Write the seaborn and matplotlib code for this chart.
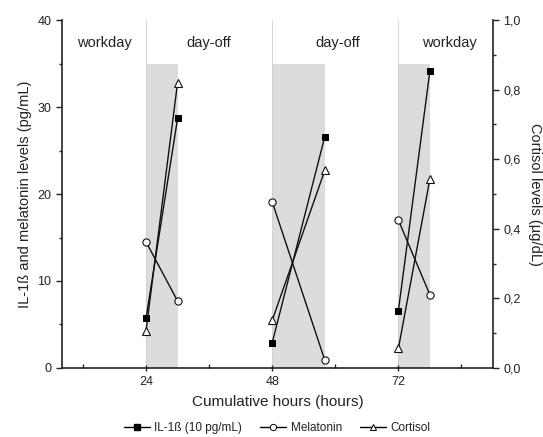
import matplotlib
matplotlib.use("Agg")
import matplotlib.pyplot as plt
import seaborn as sns
import pandas as pd
from matplotlib.lines import Line2D
from matplotlib.ticker import MultipleLocator, FuncFormatter

sns.set_style("ticks")
plt.rcParams['font.family'] = ['Liberation Sans', 'DejaVu Sans']

# data
hours = [24, 30, 48, 58, 72, 78]
segment = [1, 1, 2, 2, 3, 3]
il1b = [5.7, 28.7, 2.9, 26.6, 6.6, 34.2]
melatonin = [14.5, 7.7, 19.1, 0.9, 17.0, 8.4]
cortisol = [0.107, 0.82, 0.137, 0.568, 0.056, 0.544]
shade_start = [24, 48, 72]
shade_end = [30, 58, 78]
day_labels = ["workday", "day-off", "day-off", "workday"]
day_label_x = [16, 36, 60.5, 81.7]

df = pd.DataFrame({"hours": hours, "segment": segment, "il1b": il1b,
                   "melatonin": melatonin, "cortisol": cortisol})

fig = plt.figure(figsize=(5.43, 4.37), dpi=100)
ax = fig.add_axes([0.114, 0.158, 0.794, 0.796])
ax2 = ax.twinx()

for s, e in zip(shade_start, shade_end):
    ax.axvspan(s, e, ymin=0, ymax=35/40, color='#dcdcdc', lw=0, zorder=0)
    ax.axvline(s, color='#d0d0d0', lw=0.6, zorder=0)

common = dict(color='#111111', linewidth=1.0, estimator=None, legend=False)
sns.lineplot(data=df, x="hours", y="il1b", units="segment", marker='s',
             markersize=4.3, markerfacecolor='black', markeredgecolor='black',
             ax=ax, zorder=3, **common)
sns.lineplot(data=df, x="hours", y="melatonin", units="segment", marker='o',
             markersize=5.2, markerfacecolor='white', markeredgecolor='#111111',
             markeredgewidth=0.8, ax=ax, zorder=3, **common)
sns.lineplot(data=df, x="hours", y="cortisol", units="segment", marker='^',
             markersize=5.8, markerfacecolor='white', markeredgecolor='#111111',
             markeredgewidth=0.8, ax=ax2, zorder=3, **common)

ax.set_xlim(8, 90)
ax.set_ylim(0, 40)
ax2.set_ylim(0, 1.0)
ax.set_xticks([24, 48, 72])
ax.xaxis.set_minor_locator(MultipleLocator(12))
ax.yaxis.set_major_locator(MultipleLocator(10))
ax.yaxis.set_minor_locator(MultipleLocator(5))
ax2.yaxis.set_major_locator(MultipleLocator(0.2))
ax2.yaxis.set_minor_locator(MultipleLocator(0.1))
ax2.yaxis.set_major_formatter(FuncFormatter(lambda v, p: f"{v:.1f}".replace('.', ',')))

for a in (ax, ax2):
    a.spines['top'].set_visible(False)
    a.tick_params(which='major', length=4, width=1, labelsize=9, colors='#222222')
    a.tick_params(which='minor', length=2, width=1)
ax.spines['right'].set_visible(False)
ax2.spines['left'].set_visible(False)
ax2.spines['bottom'].set_visible(False)
for sp in list(ax.spines.values()) + list(ax2.spines.values()):
    sp.set_linewidth(1.2)
    sp.set_color('#222222')
ax.tick_params(axis='x', which='both', direction='inout', length=5)
ax.tick_params(axis='x', which='minor', direction='in', length=3)

ax.set_xlabel("Cumulative hours (hours)", fontsize=11, labelpad=5, color='#222222')
ax.set_ylabel("IL-1ß and melatonin levels (pg/mL)", fontsize=10.5, labelpad=4, color='#222222')
ax2.set_ylabel("Cortisol levels (µg/dL)", fontsize=10.5, rotation=270, labelpad=15, color='#222222')

for lx, lt in zip(day_label_x, day_labels):
    ax.text(lx, 37.4, lt, ha='center', va='center', fontsize=10.5, color='#222222')

handles = [
    Line2D([], [], color='black', lw=1, marker='s', markersize=4, markerfacecolor='black'),
    Line2D([], [], color='black', lw=1, marker='o', markersize=4.5, markerfacecolor='white', markeredgewidth=0.7),
    Line2D([], [], color='black', lw=1, marker='^', markersize=4.5, markerfacecolor='white', markeredgewidth=0.7),
]
labels = ["IL-1ß (10 pg/mL)", "Melatonin", "Cortisol"]
fig.legend(handles, labels, loc='center', bbox_to_anchor=(0.51, 0.02), ncol=3,
           frameon=False, fontsize=8.5, handlelength=2.2, handletextpad=0.4,
           columnspacing=1.5, labelcolor='#222222')

fig.savefig("out.png", dpi=100)
